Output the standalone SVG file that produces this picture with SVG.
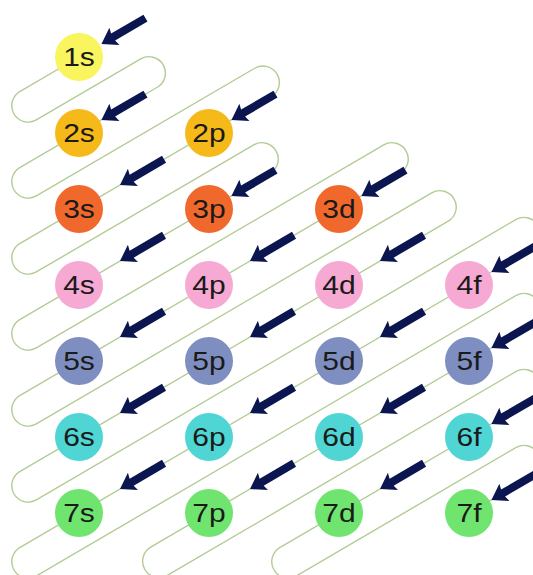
<svg xmlns="http://www.w3.org/2000/svg" xmlns:xlink="http://www.w3.org/1999/xlink" width="533" height="575" viewBox="0 0 533 575">
<defs>
<style>
.loop{fill:none;stroke:#b3cc95;stroke-width:1.4;stroke-linejoin:round}
.arr{fill:#0b1650}
.lbl{font-family:"Liberation Sans",Arial,sans-serif;font-size:25px;fill:#1a1a1a;text-anchor:middle}
.r1{fill:#f8f55e}
.r2{fill:#f6b91a}
.r3{fill:#f0682c}
.r4{fill:#f6a9d3}
.r5{fill:#7e8ec0}
.r6{fill:#4fd5d3}
.r7{fill:#6fe46f}
</style>
<path id="arrow" d="M0,0 L-15,-10 L-13.5,-4 L-51,-4 L-51,4 L-13.5,4 L-15,10 Z"/>
</defs>
<rect width="533" height="575" fill="#ffffff"/>
<g id="connectors">
<path class="loop" d="M79,57 L19.72,91.66 A16.4,16.4 0 0 0 36.28,119.97 L140.72,58.92 A16.4,16.4 0 0 1 157.28,87.24 L19.72,167.66 A16.4,16.4 0 0 0 36.28,195.97 L254.72,68.27 A16.4,16.4 0 0 1 271.28,96.59 L19.72,243.66 A16.4,16.4 0 0 0 36.28,271.97 L253.72,144.86 A16.4,16.4 0 0 1 270.28,173.17 L19.72,319.66 A16.4,16.4 0 0 0 36.28,347.97 L383.72,144.86 A16.4,16.4 0 0 1 400.28,173.17 L19.72,395.66 A16.4,16.4 0 0 0 36.28,423.97 L431.72,192.80 A16.4,16.4 0 0 1 448.28,221.11 L19.72,471.66 A16.4,16.4 0 0 0 36.28,499.97 L515.72,219.69 A16.4,16.4 0 0 1 532.28,248.01 L19.72,547.66 A16.4,16.4 0 0 0 36.28,575.97 L515.72,295.69 A16.4,16.4 0 0 1 532.28,324.01 L150.72,547.07 A16.4,16.4 0 0 0 167.28,575.39 L515.72,371.69 A16.4,16.4 0 0 1 532.28,400.01 L279.72,547.66 A16.4,16.4 0 0 0 296.28,575.97 L515.72,447.69 A16.4,16.4 0 0 1 532.28,476.01 L469,513"/>
<g class="arr">
<use xlink:href="#arrow" transform="translate(101.45,43.88) rotate(149.69)"/>
<use xlink:href="#arrow" transform="translate(101.45,119.88) rotate(149.69)"/>
<use xlink:href="#arrow" transform="translate(231.45,119.88) rotate(149.69)"/>
<use xlink:href="#arrow" transform="translate(231.45,195.88) rotate(149.69)"/>
<use xlink:href="#arrow" transform="translate(361.45,195.88) rotate(149.69)"/>
<use xlink:href="#arrow" transform="translate(491.45,271.88) rotate(149.69)"/>
<use xlink:href="#arrow" transform="translate(491.45,347.88) rotate(149.69)"/>
<use xlink:href="#arrow" transform="translate(491.45,423.88) rotate(149.69)"/>
<use xlink:href="#arrow" transform="translate(491.45,499.88) rotate(149.69)"/>
<use xlink:href="#arrow" transform="translate(120,185.03) rotate(149.69)"/>
<use xlink:href="#arrow" transform="translate(120,261.03) rotate(149.69)"/>
<use xlink:href="#arrow" transform="translate(250,261.03) rotate(149.69)"/>
<use xlink:href="#arrow" transform="translate(380,261.03) rotate(149.69)"/>
<use xlink:href="#arrow" transform="translate(120,337.03) rotate(149.69)"/>
<use xlink:href="#arrow" transform="translate(250,337.03) rotate(149.69)"/>
<use xlink:href="#arrow" transform="translate(380,337.03) rotate(149.69)"/>
<use xlink:href="#arrow" transform="translate(120,413.03) rotate(149.69)"/>
<use xlink:href="#arrow" transform="translate(250,413.03) rotate(149.69)"/>
<use xlink:href="#arrow" transform="translate(380,413.03) rotate(149.69)"/>
<use xlink:href="#arrow" transform="translate(120,489.03) rotate(149.69)"/>
<use xlink:href="#arrow" transform="translate(250,489.03) rotate(149.69)"/>
<use xlink:href="#arrow" transform="translate(380,489.03) rotate(149.69)"/>
</g>
</g>
<g id="n-1s"><circle class="r1" cx="79" cy="57" r="24"/><text class="lbl" transform="translate(79,66) scale(1.2,1)">1s</text></g>
<g id="n-2s"><circle class="r2" cx="79" cy="133" r="24"/><text class="lbl" transform="translate(79,142) scale(1.2,1)">2s</text></g>
<g id="n-2p"><circle class="r2" cx="209" cy="133" r="24"/><text class="lbl" transform="translate(209,142) scale(1.2,1)">2p</text></g>
<g id="n-3s"><circle class="r3" cx="79" cy="209" r="24"/><text class="lbl" transform="translate(79,218) scale(1.2,1)">3s</text></g>
<g id="n-3p"><circle class="r3" cx="209" cy="209" r="24"/><text class="lbl" transform="translate(209,218) scale(1.2,1)">3p</text></g>
<g id="n-3d"><circle class="r3" cx="339" cy="209" r="24"/><text class="lbl" transform="translate(339,218) scale(1.2,1)">3d</text></g>
<g id="n-4s"><circle class="r4" cx="79" cy="285" r="24"/><text class="lbl" transform="translate(79,294) scale(1.2,1)">4s</text></g>
<g id="n-4p"><circle class="r4" cx="209" cy="285" r="24"/><text class="lbl" transform="translate(209,294) scale(1.2,1)">4p</text></g>
<g id="n-4d"><circle class="r4" cx="339" cy="285" r="24"/><text class="lbl" transform="translate(339,294) scale(1.2,1)">4d</text></g>
<g id="n-4f"><circle class="r4" cx="469" cy="285" r="24"/><text class="lbl" transform="translate(469,294) scale(1.2,1)">4f</text></g>
<g id="n-5s"><circle class="r5" cx="79" cy="361" r="24"/><text class="lbl" transform="translate(79,370) scale(1.2,1)">5s</text></g>
<g id="n-5p"><circle class="r5" cx="209" cy="361" r="24"/><text class="lbl" transform="translate(209,370) scale(1.2,1)">5p</text></g>
<g id="n-5d"><circle class="r5" cx="339" cy="361" r="24"/><text class="lbl" transform="translate(339,370) scale(1.2,1)">5d</text></g>
<g id="n-5f"><circle class="r5" cx="469" cy="361" r="24"/><text class="lbl" transform="translate(469,370) scale(1.2,1)">5f</text></g>
<g id="n-6s"><circle class="r6" cx="79" cy="437" r="24"/><text class="lbl" transform="translate(79,446) scale(1.2,1)">6s</text></g>
<g id="n-6p"><circle class="r6" cx="209" cy="437" r="24"/><text class="lbl" transform="translate(209,446) scale(1.2,1)">6p</text></g>
<g id="n-6d"><circle class="r6" cx="339" cy="437" r="24"/><text class="lbl" transform="translate(339,446) scale(1.2,1)">6d</text></g>
<g id="n-6f"><circle class="r6" cx="469" cy="437" r="24"/><text class="lbl" transform="translate(469,446) scale(1.2,1)">6f</text></g>
<g id="n-7s"><circle class="r7" cx="79" cy="513" r="24"/><text class="lbl" transform="translate(79,522) scale(1.2,1)">7s</text></g>
<g id="n-7p"><circle class="r7" cx="209" cy="513" r="24"/><text class="lbl" transform="translate(209,522) scale(1.2,1)">7p</text></g>
<g id="n-7d"><circle class="r7" cx="339" cy="513" r="24"/><text class="lbl" transform="translate(339,522) scale(1.2,1)">7d</text></g>
<g id="n-7f"><circle class="r7" cx="469" cy="513" r="24"/><text class="lbl" transform="translate(469,522) scale(1.2,1)">7f</text></g>
</svg>
